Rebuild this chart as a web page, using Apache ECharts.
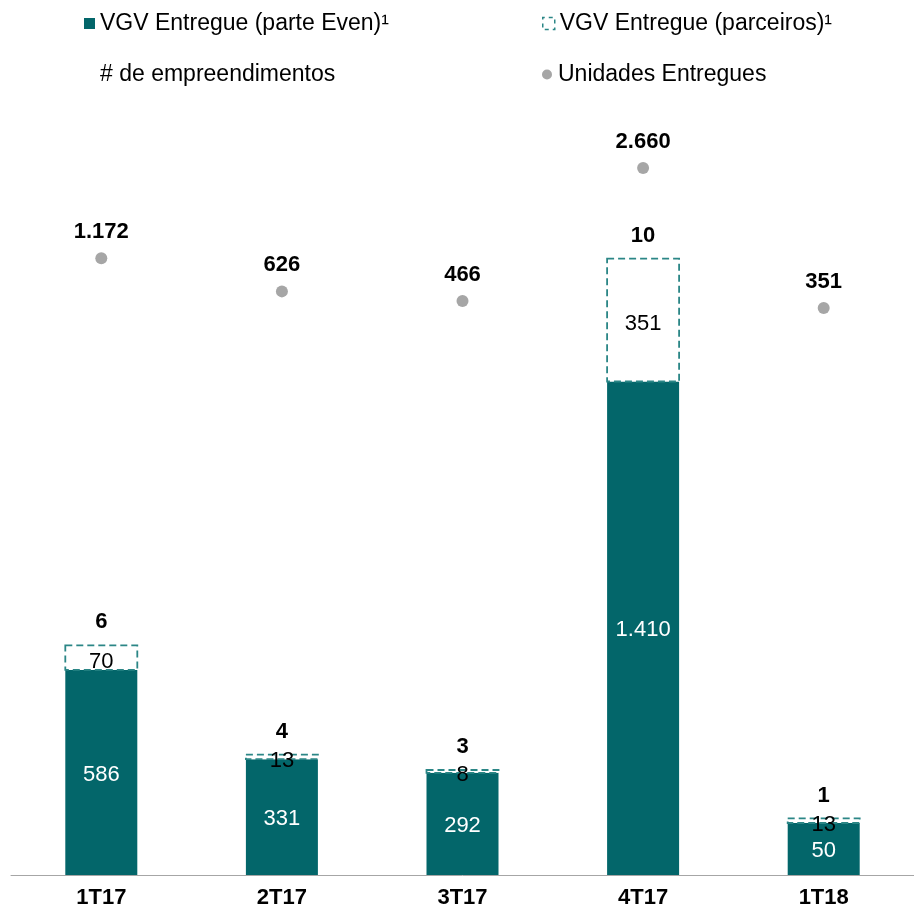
<!DOCTYPE html>
<html>
<head>
<meta charset="utf-8">
<script src="https://cdn.jsdelivr.net/npm/echarts@6/dist/echarts.min.js"></script>
<style>
  html, body { margin: 0; padding: 0; background: #fff; }
  #chart { width: 914px; height: 915px; }
</style>
</head>
<body>
<div id="chart"></div>
<script>
const quarters = ['1T17', '2T17', '3T17', '4T17', '1T18'];
const vgvEven = [586, 331, 292, 1410, 50];
const vgvPartners = [70, 13, 8, 351, 13];
const projectCounts = [6, 4, 3, 10, 1];
const unitsDelivered = [1172, 626, 466, 2660, 351];

const TEAL = '#03666A';
const DASH = '#2b8686';
const GREY = '#a6a6a6';
const FONT = '"Liberation Sans", Arial, sans-serif';
const FS = 22;
const BAR_W = 72;
// the source draws the small 1T18 Even bar taller than its value
const MIN_EVEN_H = 52;

const fmt = v => String(v).replace(/\B(?=(\d{3})+(?!\d))/g, '.');

const rows = quarters.map((q, i) => [i, vgvEven[i], vgvPartners[i], projectCounts[i]]);

// stacked geometry in pixels, so the partner box sits on the drawn Even bar
function geom(api) {
  const base = api.coord([api.value(0), 0]);
  const hEven = Math.max(api.size([0, api.value(1)])[1], MIN_EVEN_H);
  const hPart = api.size([0, api.value(2)])[1];
  return {
    cx: base[0], x: base[0] - BAR_W / 2, base: base[1],
    evenTop: base[1] - hEven, partTop: base[1] - hEven - hPart
  };
}

function label(text, x, y, color, bold) {
  return {
    type: 'text', z2: 10,
    style: { text, x, y, fill: color, fontSize: FS, fontFamily: FONT, fontWeight: bold ? 'bold' : 'normal', align: 'center', verticalAlign: 'middle' }
  };
}

const legendBase = { orient: 'vertical', padding: 0, itemGap: 0, textStyle: { fontFamily: FONT, fontSize: 23, color: '#000' } };

const chart = echarts.init(document.getElementById('chart'));
chart.setOption({
  animation: false,
  backgroundColor: '#fff',
  textStyle: { fontFamily: FONT },
  legend: [
    { ...legendBase, left: 84, top: 12, itemWidth: 11, itemHeight: 11, data: [{ name: 'VGV Entregue (parte Even)¹', icon: 'rect' }] },
    { ...legendBase, left: 84, top: 63, itemWidth: 11, itemHeight: 11, data: [{ name: '# de empreendimentos', icon: 'none' }] },
    { ...legendBase, left: 542, top: 12, itemWidth: 12, itemHeight: 12,
      data: [{ name: 'VGV Entregue (parceiros)¹', icon: 'rect', itemStyle: { color: '#fff', borderColor: DASH, borderWidth: 1.5, borderType: [4, 4], borderDashOffset: 2 } }] },
    { ...legendBase, left: 542, top: 63, itemWidth: 12, itemHeight: 10, data: [{ name: 'Unidades Entregues', icon: 'circle' }] }
  ],
  grid: { left: 11, top: 105, width: 914, height: 770 },
  xAxis: {
    type: 'category', data: quarters,
    axisLine: { lineStyle: { color: GREY, width: 1 } },
    axisTick: { length: 6, lineStyle: { color: GREY } },
    axisLabel: { color: '#000', fontWeight: 'bold', fontSize: FS, fontFamily: FONT, margin: 12 }
  },
  yAxis: [
    { type: 'value', min: 0, max: 2200, show: false, splitLine: { show: false } },
    { type: 'value', min: -9000, max: 3700, show: false, splitLine: { show: false } }
  ],
  series: [
    {
      name: 'VGV Entregue (parte Even)¹', type: 'custom', data: rows, encode: { x: 0, y: 1 },
      itemStyle: { color: TEAL },
      renderItem: (params, api) => {
        const g = geom(api);
        return {
          type: 'group',
          children: [
            { type: 'rect', shape: { x: g.x, y: g.evenTop, width: BAR_W, height: g.base - g.evenTop }, style: { fill: TEAL } },
            label(fmt(api.value(1)), g.cx, (g.evenTop + g.base) / 2 + 2, '#fff')
          ]
        };
      }
    },
    {
      name: 'VGV Entregue (parceiros)¹', type: 'custom', data: rows, encode: { x: 0, y: 2 },
      itemStyle: { color: '#fff', borderColor: DASH, borderWidth: 1.5, borderType: [4, 4] },
      renderItem: (params, api) => {
        const g = geom(api);
        return {
          type: 'group',
          children: [
            { type: 'rect', shape: { x: g.x, y: g.partTop, width: BAR_W, height: g.evenTop - g.partTop },
              style: { fill: '#fff', stroke: DASH, lineWidth: 1.8, lineDash: [7, 4] } },
            label(fmt(api.value(2)), g.cx, (g.partTop + g.evenTop) / 2 + 4, '#000')
          ]
        };
      }
    },
    {
      name: '# de empreendimentos', type: 'custom', data: rows, encode: { x: 0, y: 3 },
      itemStyle: { color: '#000' },
      renderItem: (params, api) => {
        const g = geom(api);
        return label(String(api.value(3)), g.cx, g.partTop - 23, '#000', true);
      }
    },
    {
      name: 'Unidades Entregues', type: 'scatter', yAxisIndex: 1, data: unitsDelivered,
      symbolSize: 12, itemStyle: { color: GREY, opacity: 1 },
      label: { show: true, position: 'top', distance: 9, color: '#000', fontWeight: 'bold', fontSize: FS, fontFamily: FONT, formatter: p => fmt(p.value) }
    }
  ]
});
</script>
</body>
</html>
